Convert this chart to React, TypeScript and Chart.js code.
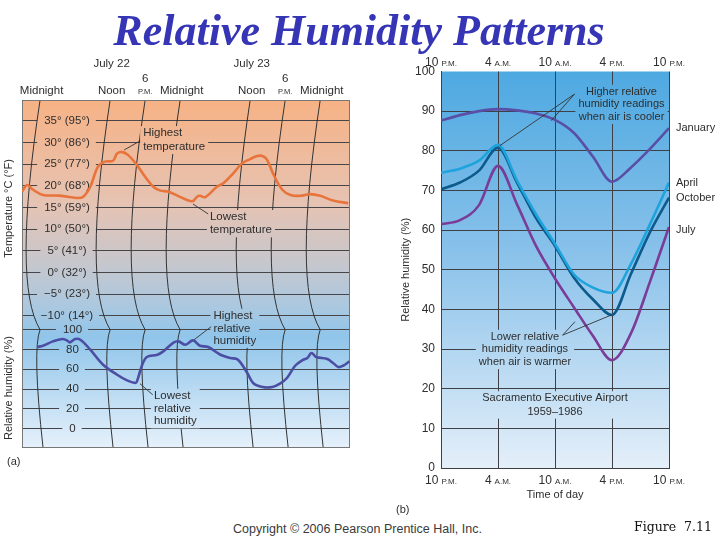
import React, { useEffect, useRef } from "react";
import { Chart, registerables } from "chart.js";

Chart.register(...registerables);

const SANS = "'Liberation Sans', Arial, Helvetica, sans-serif";
const INK = "#2e2e2e";
const GRID = "#3f3f46";
Chart.defaults.font.family = SANS;

// ---------- Panel (a): thermohygrograph trace, July 22–23 ----------
const TRACE_MARK_HOURS = [0, 12, 18, 24, 36, 42, 48];
const TRACE_MARK_LABELS = ["Midnight", "Noon", "6 P.M.", "Midnight", "Noon", "6 P.M.", "Midnight"];
const TRACE_DATE_HOURS = [12, 36];
const TRACE_DATE_LABELS = ["July 22", "July 23"];
const TEMP_TICKS = [35, 30, 25, 20, 15, 10, 5, 0, -5, -10];
const TEMP_TICK_LABELS = ["35° (95°)", "30° (86°)", "25° (77°)", "20° (68°)", "15° (59°)", "10° (50°)", "5° (41°)", "0° (32°)", "−5° (23°)", "−10° (14°)"];
const RH_TICKS = [100, 80, 60, 40, 20, 0];
const RH_TICK_LABELS = ["100", "80", "60", "40", "20", "0"];
const TEMP_HOURS = [-3.1, -2.2, -1.2, 0.5, 3.4, 6.3, 7.4, 8.6, 9.9, 11.1, 12.5, 13.2, 14.1, 15.1, 16.6, 18.0, 19.4, 20.6, 21.9, 23.5, 25.4, 26.2, 26.9, 27.4, 28.3, 30.3, 31.4, 33.1, 34.6, 36.0, 37.2, 38.1, 38.9, 39.9, 41.5, 42.9, 44.6, 46.3, 48.0, 50.2, 52.8];
const TEMP_C = [18.7, 20.2, 19.1, 17.9, 17.75, 17.2, 17.5, 19.8, 24.4, 25.6, 25.8, 27.5, 27.8, 27.1, 24.8, 22.1, 19.8, 18.9, 18.7, 17.75, 16.6, 16.5, 17.5, 17.7, 17.4, 19.8, 20.6, 22.9, 25.2, 26.2, 26.9, 26.9, 26.0, 22.9, 19.1, 17.9, 17.7, 18.1, 17.7, 16.6, 16.0];
const RH_HOURS = [-0.5, 0.5, 2.2, 3.8, 4.6, 5.1, 6.0, 6.9, 8.6, 10.8, 13.2, 14.9, 16.3, 16.6, 17.5, 18.3, 20.1, 21.1, 22.8, 23.7, 24.9, 26.2, 27.4, 28.8, 30.9, 32.6, 33.9, 35.5, 36.5, 38.1, 39.8, 41.1, 42.3, 43.7, 44.9, 45.8, 46.5, 47.3, 49.2, 50.2, 51.1, 51.9, 53.0];
const RH_PCT = [82.5, 83.8, 88.2, 90.6, 89.2, 87.2, 90.6, 89.9, 79.8, 64.6, 54.5, 48.8, 46.2, 47.8, 64.6, 72.4, 74.7, 78.1, 86.6, 88.2, 84.8, 89.2, 83.8, 82.5, 74.7, 71.4, 69.7, 56.3, 46.2, 42.1, 42.1, 45.5, 51.2, 63.6, 69.0, 71.4, 76.5, 72.4, 70.4, 66.4, 62.3, 63.6, 68.0];
// notes: [hour, value] anchors
const NOTE_HIGH_T = ["Highest", "temperature"];
const NOTE_HIGH_T_AT = [17.66, 32.2];
const NOTE_HIGH_T_LEADER = [14.4, 28.3, 17.15, 30.4];
const NOTE_LOW_T = ["Lowest", "temperature"];
const NOTE_LOW_T_AT = [29.1, 12.8];
const NOTE_LOW_T_LEADER = [26.2, 15.8, 28.8, 13.5];
const NOTE_HIGH_RH = ["Highest", "relative", "humidity"];
const NOTE_HIGH_RH_AT = [29.7, 114];
const NOTE_HIGH_RH_LEADER = [26.4, 89.9, 29.3, 103];
const NOTE_LOW_RH = ["Lowest", "relative", "humidity"];
const NOTE_LOW_RH_AT = [19.5, 33.3];
const NOTE_LOW_RH_LEADER = [17.1, 45.5, 19.3, 34.3];

// ---------- Panel (b): Sacramento mean daily humidity cycle ----------
const DAY_HOURS = [0, 2, 4, 6, 8, 10, 12, 14, 16, 18, 20, 22, 24]; // hours after 10 P.M.
const DAY_TICK_HOURS = [0, 6, 12, 18, 24];
const DAY_TICK_NUM = ["10", "4", "10", "4", "10"];
const DAY_TICK_SUFFIX = ["P.M.", "A.M.", "A.M.", "P.M.", "P.M."];
const JANUARY_RH = [87.6, 89.0, 90.0, 90.5, 90.2, 89.4, 87.8, 84.5, 78.5, 72.2, 75.8, 80.5, 85.7];
const APRIL_RH = [74.5, 75.5, 77.5, 81.5, 72.5, 64.0, 56.5, 48.8, 45.5, 44.2, 51.5, 61.5, 72.0];
const OCTOBER_RH = [70.3, 72.0, 75.0, 80.8, 72.0, 63.0, 56.0, 48.0, 42.5, 38.6, 49.0, 59.5, 68.2];
const JULY_RH = [61.5, 62.5, 66.3, 76.2, 66.5, 56.0, 47.8, 40.5, 33.3, 27.2, 34.0, 47.0, 60.8];
const SERIES_NAMES = ["January", "April", "October", "July"];
const SERIES_COLORS = ["#5a4fa6", "#1fa3dd", "#0c5b8c", "#7b3c98"];
const SERIES_LABEL_AT = [85.8, 71.8, 68.0, 60.0];
const NOTE_COOL = ["Higher relative", "humidity readings", "when air is cooler"];
const NOTE_COOL_AT = [19.0, 94.9];
const NOTE_COOL_LEADERS = [[14.05, 94.3, 6.2, 81.3], [14.05, 94.3, 11.6, 87.6]];
const NOTE_WARM = ["Lower relative", "humidity readings", "when air is warmer"];
const NOTE_WARM_AT = [8.84, 33.1];
const NOTE_WARM_LEADERS = [[12.8, 33.5, 17.95, 38.6], [12.8, 33.5, 14.1, 36.9]];
const NOTE_SITE = ["Sacramento Executive Airport", "1959–1986"];
const NOTE_SITE_AT = [12, 17.6];

const f = (s: number) => `${s}px ${SANS}`;

function thermoGradient(ctx: CanvasRenderingContext2D, a: any) {
  const g = ctx.createLinearGradient(0, a.top, 0, a.bottom);
  g.addColorStop(0, "#f7b285");
  g.addColorStop(0.3, "#e6c3b3");
  g.addColorStop(0.47, "#c6c7cd");
  g.addColorStop(0.6, "#a9c8e1");
  g.addColorStop(0.68, "#90c5ea");
  g.addColorStop(1, "#e6f1fb");
  return g;
}

function dayGradient(ctx: CanvasRenderingContext2D, a: any) {
  const g = ctx.createLinearGradient(0, a.top, 0, a.bottom);
  g.addColorStop(0, "#4ea9e1");
  g.addColorStop(0.45, "#88c1ea");
  g.addColorStop(1, "#e4eff9");
  return g;
}

function maskBox(ctx: CanvasRenderingContext2D, bg: any, lines: string[], x: number, y: number, lh: number, align: "left" | "center") {
  const w = Math.max(...lines.map((l) => ctx.measureText(l).width));
  const left = align === "center" ? x - w / 2 : x;
  ctx.fillStyle = bg;
  ctx.fillRect(left - 3, y - 7, w + 6, (lines.length - 1) * lh + 14);
}

function textLines(ctx: CanvasRenderingContext2D, lines: string[], x: number, y: number, lh: number, align: "left" | "center") {
  ctx.fillStyle = INK;
  ctx.textAlign = align;
  ctx.textBaseline = "middle";
  lines.forEach((l, i) => ctx.fillText(l, x, y + i * lh));
}

function leader(ctx: CanvasRenderingContext2D, xs: any, ys: any, seg: number[]) {
  ctx.strokeStyle = "#333";
  ctx.lineWidth = 0.9;
  ctx.beginPath();
  ctx.moveTo(xs.getPixelForValue(seg[0]), ys.getPixelForValue(seg[1]));
  ctx.lineTo(xs.getPixelForValue(seg[2]), ys.getPixelForValue(seg[3]));
  ctx.stroke();
}

const tracePlugin = {
  id: "trace",
  beforeDraw(chart: any) {
    const { ctx, chartArea: a } = chart;
    ctx.save();
    ctx.fillStyle = thermoGradient(ctx, a);
    ctx.fillRect(a.left, a.top, a.right - a.left, a.bottom - a.top);
    ctx.restore();
  },
  beforeDatasetsDraw(chart: any) {
    const { ctx, chartArea: a, scales } = chart;
    const xs = scales.x, yT = scales.yT, yH = scales.yH;
    const bg = thermoGradient(ctx, a);
    ctx.save();
    ctx.font = f(11.5);
    const tCx = a.left + 45;
    const hCx = a.left + 50.5;
    const bands = (ticks: number[], labels: string[], sc: any, cx: number) =>
      ticks.forEach((v, i) => {
        const y = sc.getPixelForValue(v);
        const w = ctx.measureText(labels[i]).width;
        ctx.fillStyle = bg;
        ctx.fillRect(cx - w / 2 - 7, y - 2, w + 13, 4);
      });
    bands(TEMP_TICKS, TEMP_TICK_LABELS, yT, tCx);
    bands(RH_TICKS, RH_TICK_LABELS, yH, hCx);
    // time arcs
    const yMid = yH.getPixelForValue(100);
    ctx.strokeStyle = "#333";
    ctx.lineWidth = 1;
    TRACE_MARK_HOURS.forEach((h) => {
      const x0 = xs.getPixelForValue(h);
      ctx.beginPath();
      ctx.moveTo(x0, a.top);
      ctx.quadraticCurveTo(x0 - 28, a.top + (yMid - a.top) * 0.8, x0, yMid);
      ctx.quadraticCurveTo(x0 - 8, yMid + 20, x0 + 3, a.bottom);
      ctx.stroke();
    });
    // notes
    const notes: [string[], number[], any, number][] = [
      [NOTE_HIGH_T, NOTE_HIGH_T_AT, yT, 14],
      [NOTE_LOW_T, NOTE_LOW_T_AT, yT, 13.3],
      [NOTE_HIGH_RH, NOTE_HIGH_RH_AT, yH, 12.5],
      [NOTE_LOW_RH, NOTE_LOW_RH_AT, yH, 12.8],
    ];
    notes.forEach(([lines, at, sc, lh]) => {
      maskBox(ctx, bg, lines, xs.getPixelForValue(at[0]), sc.getPixelForValue(at[1]), lh, "left");
    });
    notes.forEach(([lines, at, sc, lh]) => {
      textLines(ctx, lines, xs.getPixelForValue(at[0]), sc.getPixelForValue(at[1]), lh, "left");
    });
    // tick labels
    ctx.fillStyle = INK;
    ctx.textAlign = "center";
    ctx.textBaseline = "middle";
    TEMP_TICKS.forEach((v, i) => ctx.fillText(TEMP_TICK_LABELS[i], tCx, yT.getPixelForValue(v)));
    RH_TICKS.forEach((v, i) => ctx.fillText(RH_TICK_LABELS[i], hCx, yH.getPixelForValue(v)));
    // frame
    ctx.strokeStyle = "#777";
    ctx.lineWidth = 1;
    ctx.strokeRect(a.left + 0.5, a.top + 0.5, a.right - a.left - 1, a.bottom - a.top - 1);
    ctx.restore();
  },
  afterDatasetsDraw(chart: any) {
    const { ctx, chartArea: a, scales } = chart;
    const xs = scales.x, yT = scales.yT, yH = scales.yH;
    ctx.save();
    leader(ctx, xs, yT, NOTE_HIGH_T_LEADER);
    leader(ctx, xs, yT, NOTE_LOW_T_LEADER);
    leader(ctx, xs, yH, NOTE_HIGH_RH_LEADER);
    leader(ctx, xs, yH, NOTE_LOW_RH_LEADER);
    ctx.fillStyle = INK;
    ctx.textAlign = "center";
    ctx.textBaseline = "alphabetic";
    TRACE_MARK_HOURS.forEach((h, i) => {
      const x = xs.getPixelForValue(h);
      const lab = TRACE_MARK_LABELS[i];
      if (lab.startsWith("6 ")) {
        ctx.font = f(11.5);
        ctx.fillText("6", x, a.top - 18);
        ctx.font = f(7.5);
        ctx.fillText(lab.slice(2), x, a.top - 6);
      } else {
        ctx.font = f(11.5);
        ctx.fillText(lab, x + 1.5, a.top - 6);
      }
    });
    ctx.font = f(11.5);
    TRACE_DATE_HOURS.forEach((h, i) => ctx.fillText(TRACE_DATE_LABELS[i], xs.getPixelForValue(h) + 1.5, a.top - 33));
    // axis titles
    ctx.font = f(11);
    ctx.textBaseline = "middle";
    const vt = (t: string, x: number, y: number) => {
      ctx.save();
      ctx.translate(x, y);
      ctx.rotate(-Math.PI / 2);
      ctx.fillText(t, 0, 0);
      ctx.restore();
    };
    vt("Temperature °C (°F)", 9, yT.getPixelForValue(14.8));
    vt("Relative humidity (%)", 9, yH.getPixelForValue(41));
    ctx.textAlign = "left";
    ctx.font = f(11);
    ctx.fillText("(a)", 7, a.bottom + 14);
    ctx.restore();
  },
};

const dayPlugin = {
  id: "daycycle",
  beforeDraw(chart: any) {
    const { ctx, chartArea: a } = chart;
    ctx.save();
    ctx.fillStyle = dayGradient(ctx, a);
    ctx.fillRect(a.left, a.top, a.right - a.left, a.bottom - a.top);
    ctx.restore();
  },
  beforeDatasetsDraw(chart: any) {
    const { ctx, chartArea: a, scales } = chart;
    const xs = scales.x, ys = scales.y;
    const bg = dayGradient(ctx, a);
    ctx.save();
    ctx.font = f(11);
    const notes: [string[], number[], number][] = [
      [NOTE_COOL, NOTE_COOL_AT, 12.6],
      [NOTE_WARM, NOTE_WARM_AT, 12.7],
      [NOTE_SITE, NOTE_SITE_AT, 13.4],
    ];
    notes.forEach(([lines, at, lh]) => maskBox(ctx, bg, lines, xs.getPixelForValue(at[0]), ys.getPixelForValue(at[1]), lh, "center"));
    notes.forEach(([lines, at, lh]) => textLines(ctx, lines, xs.getPixelForValue(at[0]), ys.getPixelForValue(at[1]), lh, "center"));
    ctx.restore();
  },
  afterDatasetsDraw(chart: any) {
    const { ctx, chartArea: a, scales } = chart;
    const xs = scales.x, ys = scales.y;
    ctx.save();
    NOTE_COOL_LEADERS.forEach((s) => leader(ctx, xs, ys, s));
    NOTE_WARM_LEADERS.forEach((s) => leader(ctx, xs, ys, s));
    // mixed-size time labels, top and bottom
    ctx.fillStyle = INK;
    ctx.textBaseline = "alphabetic";
    ctx.textAlign = "left";
    DAY_TICK_HOURS.forEach((h, i) => {
      const x = xs.getPixelForValue(h);
      ctx.font = f(12);
      const wn = ctx.measureText(DAY_TICK_NUM[i]).width;
      ctx.font = f(8);
      const ws = ctx.measureText(DAY_TICK_SUFFIX[i]).width;
      const start = x - (wn + 3 + ws) / 2;
      [a.top - 5.5, a.bottom + 15.5].forEach((yb) => {
        ctx.font = f(12);
        ctx.fillText(DAY_TICK_NUM[i], start, yb);
        ctx.font = f(8);
        ctx.fillText(DAY_TICK_SUFFIX[i], start + wn + 3, yb);
      });
    });
    // series names at right
    ctx.font = f(11);
    ctx.textBaseline = "middle";
    SERIES_NAMES.forEach((n, i) => ctx.fillText(n, a.right + 7, ys.getPixelForValue(SERIES_LABEL_AT[i])));
    ctx.fillText("(b)", 6, a.bottom + 42);
    ctx.restore();
  },
};

export default function App() {
  const aRef = useRef<HTMLCanvasElement>(null);
  const bRef = useRef<HTMLCanvasElement>(null);

  useEffect(() => {
    const chartA = new Chart(aRef.current as HTMLCanvasElement, {
      type: "line",
      data: {
        datasets: [
          {
            label: "Temperature",
            data: TEMP_HOURS.map((h, i) => ({ x: h, y: TEMP_C[i] })),
            yAxisID: "yT",
            borderColor: "#e8743b",
            borderWidth: 2.6,
            pointRadius: 0,
            tension: 0.35,
            fill: false,
          },
          {
            label: "Relative humidity",
            data: RH_HOURS.map((h, i) => ({ x: h, y: RH_PCT[i] })),
            yAxisID: "yH",
            borderColor: "#4b4ea3",
            borderWidth: 2.6,
            pointRadius: 0,
            tension: 0.35,
            fill: false,
          },
        ],
      },
      options: {
        animation: false,
        responsive: false,
        layout: { padding: { left: 22, top: 50, right: 10, bottom: 22 } },
        plugins: { legend: { display: false }, tooltip: { enabled: false } },
        scales: {
          x: { type: "linear", min: -3.1, max: 53.1, display: false },
          yT: {
            type: "linear",
            position: "left",
            min: -40.6,
            max: 39.85,
            ticks: { display: false },
            grid: { color: "#45454a", lineWidth: 1, drawTicks: false },
            border: { display: false },
            afterBuildTicks: (ax: any) => {
              ax.ticks = TEMP_TICKS.map((v) => ({ value: v }));
            },
            afterFit: (ax: any) => {
              ax.width = 0;
            },
          },
          yH: {
            type: "linear",
            position: "left",
            min: -19.5,
            max: 332,
            ticks: { display: false },
            grid: { color: "#45454a", lineWidth: 1, drawTicks: false },
            border: { display: false },
            afterBuildTicks: (ax: any) => {
              ax.ticks = RH_TICKS.map((v) => ({ value: v }));
            },
            afterFit: (ax: any) => {
              ax.width = 0;
            },
          },
        },
      } as any,
      plugins: [tracePlugin],
    });

    const series = [JANUARY_RH, APRIL_RH, OCTOBER_RH, JULY_RH];
    const chartB = new Chart(bRef.current as HTMLCanvasElement, {
      type: "line",
      data: {
        datasets: series.map((vals, k) => ({
          label: SERIES_NAMES[k],
          data: DAY_HOURS.map((h, i) => ({ x: h, y: vals[i] })),
          borderColor: SERIES_COLORS[k],
          borderWidth: 2.6,
          pointRadius: 0,
          cubicInterpolationMode: "monotone",
          fill: false,
        })),
      },
      options: {
        animation: false,
        responsive: false,
        layout: { padding: { left: 0, top: 21.5, right: 51, bottom: 10 } },
        plugins: { legend: { display: false }, tooltip: { enabled: false } },
        scales: {
          x: {
            type: "linear",
            min: 0,
            max: 24,
            ticks: { display: false, stepSize: 6 },
            grid: { color: GRID, drawTicks: false },
            border: { color: GRID },
            title: { display: true, text: "Time of day", color: INK, font: { size: 11, family: SANS }, padding: { top: 0, bottom: 8 } },
            afterFit: (ax: any) => {
              ax.height = 42;
            },
          },
          y: {
            type: "linear",
            min: 0,
            max: 100,
            ticks: { stepSize: 10, color: INK, font: { size: 12, family: SANS }, padding: 6 },
            grid: {
              color: (c: any) => (c.tick && c.tick.value === 100 ? "rgba(0,0,0,0)" : GRID),
              drawTicks: false,
            },
            border: { color: GRID },
            title: { display: true, text: "Relative humidity (%)", color: INK, font: { size: 11, family: SANS }, padding: { top: 9, bottom: 0 } },
            afterFit: (ax: any) => {
              ax.width = 51;
            },
          },
        },
      } as any,
      plugins: [dayPlugin],
    });

    return () => {
      chartA.destroy();
      chartB.destroy();
    };
  }, []);

  return (
    <div style={{ position: "absolute", left: 0, top: 0, width: 720, height: 540, background: "#fff", overflow: "hidden" }}>
      <canvas ref={aRef} width={360} height={420} style={{ position: "absolute", left: 0, top: 50, width: 360, height: 420 }} />
      <canvas ref={bRef} width={330} height={470} style={{ position: "absolute", left: 390, top: 50, width: 330, height: 470 }} />
      <div
        style={{
          position: "absolute",
          left: 0,
          top: 7,
          width: 718,
          textAlign: "center",
          font: "italic bold 44px 'Liberation Serif', 'Times New Roman', serif",
          lineHeight: "48px",
          color: "#3535b5",
          whiteSpace: "nowrap",
        }}
      >
        Relative Humidity Patterns
      </div>
      <div style={{ position: "absolute", left: 233, top: 522, font: `12.5px ${SANS}`, color: "#3a3a3a", whiteSpace: "nowrap" }}>
        Copyright © 2006 Pearson Prentice Hall, Inc.
      </div>
      <div style={{ position: "absolute", left: 634, top: 519, font: "12.5px 'DejaVu Serif', serif", color: "#111", whiteSpace: "pre" }}>
        {"Figure  7.11"}
      </div>
    </div>
  );
}
